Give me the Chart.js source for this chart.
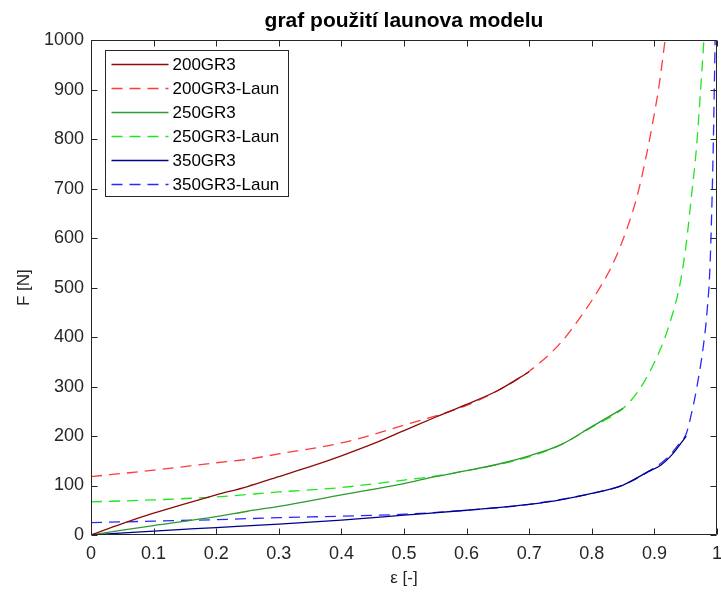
<!DOCTYPE html>
<html lang="cs">
<head>
<meta charset="UTF-8">
<title>graf použití launova modelu</title>
<script src="https://cdn.jsdelivr.net/npm/chart.js@4/dist/chart.umd.min.js"></script>
<style>
    html, body { margin: 0; padding: 0; background: #fff; }
    #wrap { width: 721px; height: 593px; position: relative; }
</style>
</head>
<body>

<div id="wrap">
    <canvas id="launChart"></canvas>
</div>

<script>

/* ===============================
   naměřená data a Launův model
=============================== */

// 200GR3
const eps200 = [0, 0.05, 0.1, 0.15, 0.2, 0.25, 0.3, 0.35, 0.4, 0.45, 0.5, 0.55, 0.6, 0.65, 0.7];
const f200 = [0, 23, 44, 63, 81, 98, 118, 138, 160, 184, 211, 238, 264, 292, 330];

const eps200Laun = [0, 0.1, 0.2, 0.25, 0.3, 0.4, 0.5, 0.6, 0.65, 0.7, 0.75, 0.786, 0.81, 0.834, 0.855, 0.872, 0.886, 0.898, 0.908, 0.917];
const f200Laun = [118, 131, 146, 153, 164, 186, 222, 262, 292, 331, 388, 448, 494, 549, 615, 683, 760, 838, 913, 1000];

// 250GR3
const eps250 = [0, 0.05, 0.1, 0.2, 0.25, 0.3, 0.4, 0.5, 0.55, 0.6, 0.65, 0.7, 0.75, 0.8, 0.85];
const f250 = [0, 10, 19, 37, 48, 58, 81, 104, 118, 130, 143, 160, 182, 219, 256];

const eps250Laun = [0, 0.1, 0.2, 0.3, 0.4, 0.5, 0.55, 0.6, 0.7, 0.75, 0.8, 0.85, 0.877, 0.909, 0.925, 0.941, 0.951, 0.959, 0.967, 0.973, 0.979];
const f250Laun = [67, 71, 77, 87, 96, 111, 119, 130, 158, 182, 218, 256, 296, 374, 430, 508, 590, 683, 780, 885, 1000];

// 350GR3
const eps350 = [0, 0.1, 0.2, 0.3, 0.4, 0.5, 0.6, 0.7, 0.75, 0.8, 0.85, 0.89, 0.91, 0.93, 0.951];
const f350 = [0, 8, 15, 22, 30, 40, 50, 62, 71, 84, 101, 128, 141, 165, 200];

const eps350Laun = [0, 0.1, 0.2, 0.3, 0.4, 0.5, 0.6, 0.7, 0.8, 0.85, 0.89, 0.92, 0.94, 0.951, 0.96, 0.967, 0.978, 0.984, 0.989, 0.994, 0.997];
const f350Laun = [25, 28, 31, 35, 38, 42, 50, 62, 84, 101, 128, 155, 185, 205, 250, 293, 380, 450, 549, 784, 1000];

// popisky os
const xTickLabels = ["0", "0.1", "0.2", "0.3", "0.4", "0.5", "0.6", "0.7", "0.8", "0.9", "1"];
const yTickLabels = ["0", "100", "200", "300", "400", "500", "600", "700", "800", "900", "1000"];


const FONT = "'Liberation Sans', Arial, Helvetica, sans-serif";
const AXIS_COLOR = "#262626";


function toPoints(xs, ys) {
    return xs.map((x, i) => ({ x: x, y: ys[i] }));
}

function series(label, xs, ys, color, dashed) {
    return {
        label: label,
        data: toPoints(xs, ys),
        borderColor: color,
        borderWidth: 1.3,
        borderDash: dashed ? [11, 7] : [],
        pointRadius: 0,
        fill: false,
        cubicInterpolationMode: "monotone"
    };
}


/* ===============================
   rámeček a ticky dovnitř (jako v MATLABu)
=============================== */

const boxPlugin = {

    id: "boxTicks",

    afterDatasetsDraw(chart) {

        const { ctx, chartArea: a, scales: { x, y } } = chart;
        const len = 6;

        const l = Math.round(a.left) + 0.5;
        const r = Math.round(a.right) - 0.5;
        const t = Math.round(a.top) + 0.5;
        const b = Math.round(a.bottom) - 0.5;

        ctx.save();
        ctx.strokeStyle = AXIS_COLOR;
        ctx.lineWidth = 1;
        ctx.setLineDash([]);

        ctx.beginPath();
        ctx.rect(l, t, r - l, b - t);

        x.ticks.forEach(tick => {
            const px = Math.round(x.getPixelForValue(tick.value)) + 0.5;
            ctx.moveTo(px, b);
            ctx.lineTo(px, b - len);
            ctx.moveTo(px, t);
            ctx.lineTo(px, t + len);
        });

        y.ticks.forEach(tick => {
            const py = Math.round(y.getPixelForValue(tick.value)) + 0.5;
            ctx.moveTo(l, py);
            ctx.lineTo(l + len, py);
            ctx.moveTo(r, py);
            ctx.lineTo(r - len, py);
        });

        ctx.stroke();
        ctx.restore();

    }

};


/* ===============================
   legenda v levém horním rohu
=============================== */

const legendPlugin = {

    id: "insideLegend",

    afterDraw(chart) {

        const { ctx, chartArea: a } = chart;

        const bx = Math.round(a.left) + 14.5;
        const by = Math.round(a.top) + 10.5;
        const bw = 183;
        const bh = 146;
        const row = 24.1;

        ctx.save();

        ctx.fillStyle = "#ffffff";
        ctx.fillRect(bx, by, bw, bh);
        ctx.strokeStyle = AXIS_COLOR;
        ctx.lineWidth = 1;
        ctx.strokeRect(bx, by, bw, bh);

        ctx.font = "17px " + FONT;
        ctx.textBaseline = "middle";
        ctx.textAlign = "left";

        chart.data.datasets.forEach((ds, i) => {

            const cy = Math.round(by + 13 + i * row) + 0.5;

            ctx.beginPath();
            ctx.strokeStyle = ds.borderColor;
            ctx.lineWidth = ds.borderWidth;
            ctx.setLineDash(ds.borderDash);
            ctx.moveTo(bx + 6, cy);
            ctx.lineTo(bx + 63, cy);
            ctx.stroke();

            ctx.setLineDash([]);
            ctx.fillStyle = "#000000";
            ctx.fillText(ds.label, bx + 67, cy + 1);

        });

        ctx.restore();

    }

};


/* ===============================
   graf
=============================== */

document.addEventListener("DOMContentLoaded", () => {

    const canvas = document.getElementById("launChart");

    new Chart(canvas.getContext("2d"), {

        type: "line",

        data: {
            datasets: [
                series("200GR3", eps200, f200, "#8c0a0a", false),
                series("200GR3-Laun", eps200Laun, f200Laun, "#ff3a3a", true),
                series("250GR3", eps250, f250, "#2f9a2f", false),
                series("250GR3-Laun", eps250Laun, f250Laun, "#1ee61e", true),
                series("350GR3", eps350, f350, "#00008c", false),
                series("350GR3-Laun", eps350Laun, f350Laun, "#2828ff", true)
            ]
        },

        options: {

            responsive: true,
            maintainAspectRatio: false,
            animation: false,

            layout: {
                padding: { left: 0, right: 4, top: 0, bottom: 0 }
            },

            plugins: {
                legend: { display: false },
                tooltip: { enabled: false },
                title: {
                    display: true,
                    fullSize: false,
                    text: "graf použití launova modelu",
                    color: "#000000",
                    font: { family: FONT, size: 21, weight: "bold" },
                    padding: { top: 9, bottom: 6 }
                }
            },

            scales: {

                x: {
                    type: "linear",
                    min: 0,
                    max: 1,
                    // krajní popisky nesmí zmenšovat plochu grafu
                    afterFit: s => {
                        s.height = 58;
                        s.paddingLeft = 0;
                        s.paddingRight = 0;
                    },
                    grid: { display: false, drawTicks: false },
                    border: { display: false },
                    ticks: {
                        stepSize: 0.1,
                        padding: 8,
                        color: AXIS_COLOR,
                        font: { family: FONT, size: 18 },
                        maxRotation: 0,
                        callback: (v, i) => xTickLabels[i]
                    },
                    title: {
                        display: true,
                        text: "ε [-]",
                        color: AXIS_COLOR,
                        font: { family: FONT, size: 17 },
                        padding: { top: 0, bottom: 4 }
                    }
                },

                y: {
                    min: 0,
                    max: 1000,
                    afterFit: s => { s.width = 91; },
                    grid: { display: false, drawTicks: false },
                    border: { display: false },
                    ticks: {
                        stepSize: 100,
                        padding: 7,
                        color: AXIS_COLOR,
                        font: { family: FONT, size: 18 },
                        callback: (v, i) => yTickLabels[i]
                    },
                    title: {
                        display: true,
                        text: "F [N]",
                        color: AXIS_COLOR,
                        font: { family: FONT, size: 17 },
                        padding: { top: 14, bottom: 0 }
                    }
                }

            }

        },

        plugins: [boxPlugin, legendPlugin]

    });

});

</script>
</body>
</html>
